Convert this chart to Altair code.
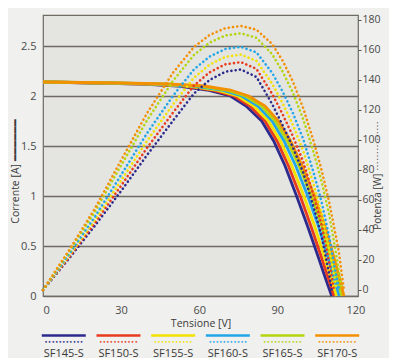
import altair as alt
import pandas as pd

FONT = "Open Sans"

series = ["SF145-S", "SF150-S", "SF155-S", "SF160-S", "SF165-S", "SF170-S"]
colors = ["#2d2a8e", "#e83a1e", "#f2e200", "#23a6e8", "#b4d50c", "#f39000"]

# Current-voltage curves (solid): current levels and the voltage at which each module reaches them
current_levels = [2.14, 2.13, 2.12, 2.10, 2.06, 2.0, 1.9, 1.75, 1.55, 1.3, 1.0, 0.7, 0.4, 0.2, 0.0]
iv_sf145 = [0, 20, 38, 52, 63, 72, 78, 84, 88.6, 93.0, 97.4, 101.6, 105.6, 108.2, 110.9]
iv_sf150 = [0, 22, 40, 54, 64.8, 73.4, 79.5, 85.3, 89.9, 94.3, 98.8, 102.9, 106.8, 109.3, 111.8]
iv_sf155 = [0, 24, 42, 56, 66.6, 74.8, 80.9, 86.6, 91.2, 95.6, 100.2, 104.3, 108.0, 110.4, 112.8]
iv_sf160 = [0, 26, 44, 58, 68.6, 76.3, 82.5, 88.0, 92.6, 97.1, 101.7, 105.8, 109.3, 111.6, 113.8]
iv_sf165 = [0, 28, 46, 60, 70.4, 77.7, 84.0, 89.2, 93.9, 98.4, 103.1, 107.1, 110.5, 112.7, 114.8]
iv_sf170 = [0, 30, 48, 62, 72, 79, 85.3, 90.4, 95.1, 99.6, 104.3, 108.3, 111.6, 113.7, 115.6]

# Power-voltage curves (dotted)
pv_sf145 = [0, 10, 20, 30, 40, 50, 58, 64, 70, 76, 82, 88, 92, 96, 100, 104, 107, 110, 110.9]
p_sf145 = [0, 21, 43, 66, 90, 113, 131, 140, 145.5, 147, 142, 124, 110, 95, 78, 55, 36, 10, 0]
pv_sf150 = [0, 10, 20, 30, 40, 50, 58, 64, 70, 76, 82, 88, 92, 96, 100, 104, 107, 110, 111.8]
p_sf150 = [0, 21.9, 45.0, 69.5, 94.8, 118.4, 136.3, 145.1, 150.4, 151.9, 147.4, 130.8, 117.3, 102.5, 85.3, 62.5, 43.5, 18.2, 0]
pv_sf155 = [0, 10, 20, 30, 40, 50, 58, 64, 70, 76, 82, 88, 92, 96, 100, 104, 107, 110, 111.5, 112.8]
p_sf155 = [0, 22.9, 46.9, 73.0, 99.5, 123.9, 141.5, 150.2, 155.4, 156.9, 152.7, 137.6, 124.6, 110.0, 92.6, 70.0, 51.0, 26.3, 12, 0]
pv_sf160 = [0, 10, 20, 30, 40, 50, 58, 64, 70, 76, 82, 88, 92, 96, 100, 104, 107, 110, 112, 113.8]
p_sf160 = [0, 23.9, 49.0, 76.7, 104.6, 129.6, 147.1, 155.6, 160.6, 162.1, 158.4, 144.8, 132.4, 117.9, 100.4, 77.9, 58.9, 35.0, 15, 0]
pv_sf165 = [0, 10, 20, 30, 40, 50, 58, 64, 70, 76, 82, 88, 92, 96, 100, 104, 107, 110, 112.5, 114.8]
p_sf165 = [0, 25.6, 52.5, 83.0, 113.2, 139.6, 156.7, 164.9, 169.6, 171.1, 168.1, 157.2, 145.7, 131.5, 113.7, 91.5, 72.5, 49.8, 25, 0]
pv_sf170 = [0, 10, 20, 30, 40, 50, 58, 64, 70, 76, 82, 88, 92, 96, 100, 104, 107, 110, 113.5, 115.6]
p_sf170 = [0, 26.5, 54.5, 86.5, 118, 145, 162, 170, 174.5, 176, 173.5, 164, 153, 139, 121, 99, 80, 58, 27, 0]

x_ticks = [0, 30, 60, 90, 120]
left_ticks = [0, 0.5, 1, 1.5, 2, 2.5]
right_ticks = [0, 20, 40, 60, 80, 100, 120, 140, 160, 180]

iv_lists = [iv_sf145, iv_sf150, iv_sf155, iv_sf160, iv_sf165, iv_sf170]
pv_lists = [(pv_sf145, p_sf145), (pv_sf150, p_sf150), (pv_sf155, p_sf155),
            (pv_sf160, p_sf160), (pv_sf165, p_sf165), (pv_sf170, p_sf170)]

iv_rows = []
for k, (name, vs) in enumerate(zip(series, iv_lists)):
    for v, i in zip(vs, current_levels):
        iv_rows.append({"series": name, "k": k, "V": v, "I": i})
iv_df = pd.DataFrame(iv_rows)

p_rows = []
for k, (name, (vs, ps)) in enumerate(zip(series, pv_lists)):
    for v, p in zip(vs, ps):
        p_rows.append({"series": name, "k": k, "V": v, "P": p})
p_df = pd.DataFrame(p_rows)

leg_df = pd.DataFrame({"series": series})

GRID = "#6e6a64"
color = alt.Color("series:N", scale=alt.Scale(domain=series, range=colors), legend=None)
xscale = alt.Scale(domain=[0, 121], nice=False, zero=False)
xaxis = alt.Axis(values=x_ticks, title="Tensione [V]", grid=False, domain=False,
                 tickSize=0, labelPadding=8, titlePadding=3, orient="bottom")

solid = alt.Chart(iv_df).mark_line(strokeWidth=2.8).encode(
    x=alt.X("V:Q", scale=xscale, axis=xaxis),
    y=alt.Y("I:Q", scale=alt.Scale(domain=[0, 2.81], nice=False),
            axis=alt.Axis(orient="left", values=left_ticks, format=".1~f", grid=True,
                          gridColor=GRID, gridWidth=1.3, domain=False, tickSize=0,
                          labelPadding=7, title="Corrente [A]  ━━━━━━", titlePadding=0,
                          titleY=156)),
    color=color,
    detail="series:N",
)

dotted = alt.Chart(p_df).mark_line(strokeWidth=2.6, strokeDash=[0.1, 4.2], strokeCap="round").encode(
    x=alt.X("V:Q", scale=xscale, axis=xaxis),
    y=alt.Y("P:Q", scale=alt.Scale(domain=[-4, 183.3], nice=False, zero=False),
            axis=alt.Axis(orient="right", values=right_ticks, grid=False, domain=False,
                          tickSize=3, tickColor="#555", labelPadding=1, labelFontSize=10.5,
                          title="Potenza [W] " + "⋯" * 5, titleAngle=270, titlePadding=2,
                          titleFontSize=10, titleY=160)),
    color=color,
    detail="series:N",
)

inner = alt.layer(solid, dotted).resolve_scale(y="independent")

legx = alt.X("series:N", scale=alt.Scale(type="point", domain=series, padding=0.38), axis=None)

leg_solid = alt.Chart(leg_df).mark_rule(strokeWidth=2.4, xOffset=-22, x2Offset=22).encode(
    x=legx, x2=alt.X2("series:N"), y=alt.value(320.5), color=color)
leg_dot = alt.Chart(leg_df).mark_text(text="•••••••••••", fontSize=6, font="DejaVu Sans",
                                      baseline="middle").encode(
    x=legx, y=alt.value(326.5), color=color)
leg_text = alt.Chart(leg_df).mark_text(fontSize=11, font=FONT, color="#3a3a3a", baseline="middle").encode(
    x=legx, y=alt.value(338.5), text="series:N")

legend_layer = alt.layer(leg_solid, leg_dot, leg_text)

chart = alt.layer(inner, legend_layer).resolve_scale(x="independent").properties(
    width=315, height=281,
    autosize=alt.AutoSizeParams(type="none"),
    padding={"left": 35, "top": 7, "right": 31, "bottom": 62},
    background="#f0f0ee",
).configure_view(
    fill="#e4e4e1", stroke=GRID, strokeWidth=1.2
).configure_axis(
    labelFont=FONT, titleFont=FONT, labelFontSize=11, titleFontSize=10.5,
    labelColor="#4a4a4a", titleColor="#3a3a3a", titleFontWeight="normal"
)

chart.save("out.html", embed_options={"renderer": "svg", "actions": False})
